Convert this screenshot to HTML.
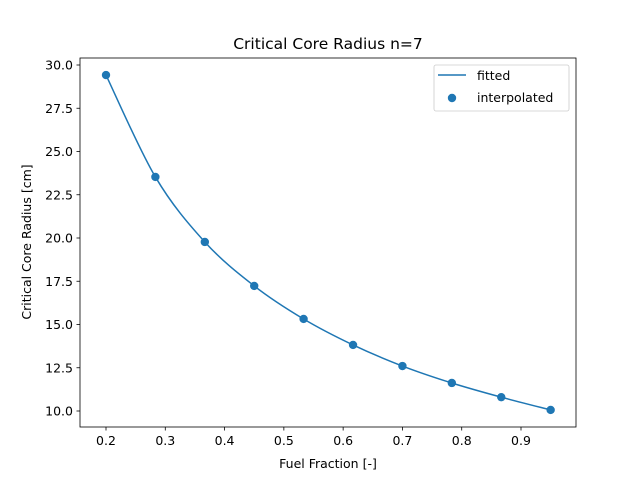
<!DOCTYPE html>
<html><head><meta charset="utf-8"><style>
body{margin:0;background:#fff;}
svg text{font-family:"DejaVu Sans","Liberation Sans",sans-serif;fill:#000;}
</style></head><body>
<svg width="640" height="480" xmlns="http://www.w3.org/2000/svg">
<g id="plot"></g>
</svg>
<script>
const xValues=[0.2,0.2833,0.3667,0.45,0.5333,0.6167,0.7,0.7833,0.8667,0.95];
const yValues=[29.42,23.53,19.77,17.23,15.32,13.82,12.6,11.62,10.8,10.06];
const xTicks=[0.2,0.3,0.4,0.5,0.6,0.7,0.8,0.9];
const yTicks=[10.0,12.5,15.0,17.5,20.0,22.5,25.0,27.5,30.0];
const NS="http://www.w3.org/2000/svg";
const g=document.getElementById('plot');
const L=80,R=576,T=58,B=427;
const sx=v=>106+(v-0.2)*(521-106)/0.7;
const sy=v=>411-(v-10)*(411-65)/20;
function mk(t,a,p){const e=document.createElementNS(NS,t);for(const k in a)e.setAttribute(k,a[k]);(p||g).appendChild(e);return e;}
let pts=xValues.map((x,i)=>[sx(x),sy(yValues[i])]);
let d="M"+pts[0][0]+","+pts[0][1];
for(let i=0;i<pts.length-1;i++){
 const p0=pts[Math.max(0,i-1)],p1=pts[i],p2=pts[i+1],p3=pts[Math.min(pts.length-1,i+2)];
 const c1=[p1[0]+(p2[0]-p0[0])/6,p1[1]+(p2[1]-p0[1])/6];
 const c2=[p2[0]-(p3[0]-p1[0])/6,p2[1]-(p3[1]-p1[1])/6];
 d+=` C${c1[0]},${c1[1]} ${c2[0]},${c2[1]} ${p2[0]},${p2[1]}`;
}
const line=mk('path',{d:d,fill:'none',stroke:'#1f77b4','stroke-width':1.5});


pts.forEach((p,i)=>{const c=mk('circle',{cx:p[0],cy:p[1],r:4.2,fill:'#1f77b4'});

});
const frame=mk('rect',{x:L,y:T,width:R-L,height:B-T,fill:'none',stroke:'#000','stroke-width':0.8});


xTicks.forEach(v=>{const x=sx(v);mk('line',{x1:x,x2:x,y1:B,y2:B+3.5,stroke:'#000','stroke-width':0.8});
const t=mk('text',{x:x,y:B+18,'font-size':12.5,'text-anchor':'middle'});t.textContent=v.toFixed(1);

});
yTicks.forEach(v=>{const y=sy(v);mk('line',{x1:L,x2:L-3.5,y1:y,y2:y,stroke:'#000','stroke-width':0.8});
const t=mk('text',{x:L-7,y:y+4.5,'font-size':12.5,'text-anchor':'end'});t.textContent=v.toFixed(1);

});
let t=mk('text',{x:328,y:468,'font-size':12.5,'text-anchor':'middle'});t.textContent='Fuel Fraction [-]';


t=mk('text',{x:0,y:0,'font-size':12.5,'text-anchor':'middle',transform:'translate(31,242) rotate(-90)'});t.textContent='Critical Core Radius [cm]';


t=mk('text',{x:328,y:49,'font-size':15.5,'text-anchor':'middle'});t.textContent='Critical Core Radius n=7';


const lg=mk('g',{});


mk('rect',{x:434,y:65,width:135,height:46,rx:2,fill:'#fff',stroke:'#ccc','stroke-width':0.8},lg);
mk('line',{x1:438,x2:466,y1:75,y2:75,stroke:'#1f77b4','stroke-width':1.5},lg);
mk('circle',{cx:452,cy:98,r:4.2,fill:'#1f77b4'},lg);
t=mk('text',{x:477,y:80,'font-size':12.5},lg);t.textContent='fitted';


t=mk('text',{x:477,y:102,'font-size':12.5},lg);t.textContent='interpolated';


</script>
</body></html>
